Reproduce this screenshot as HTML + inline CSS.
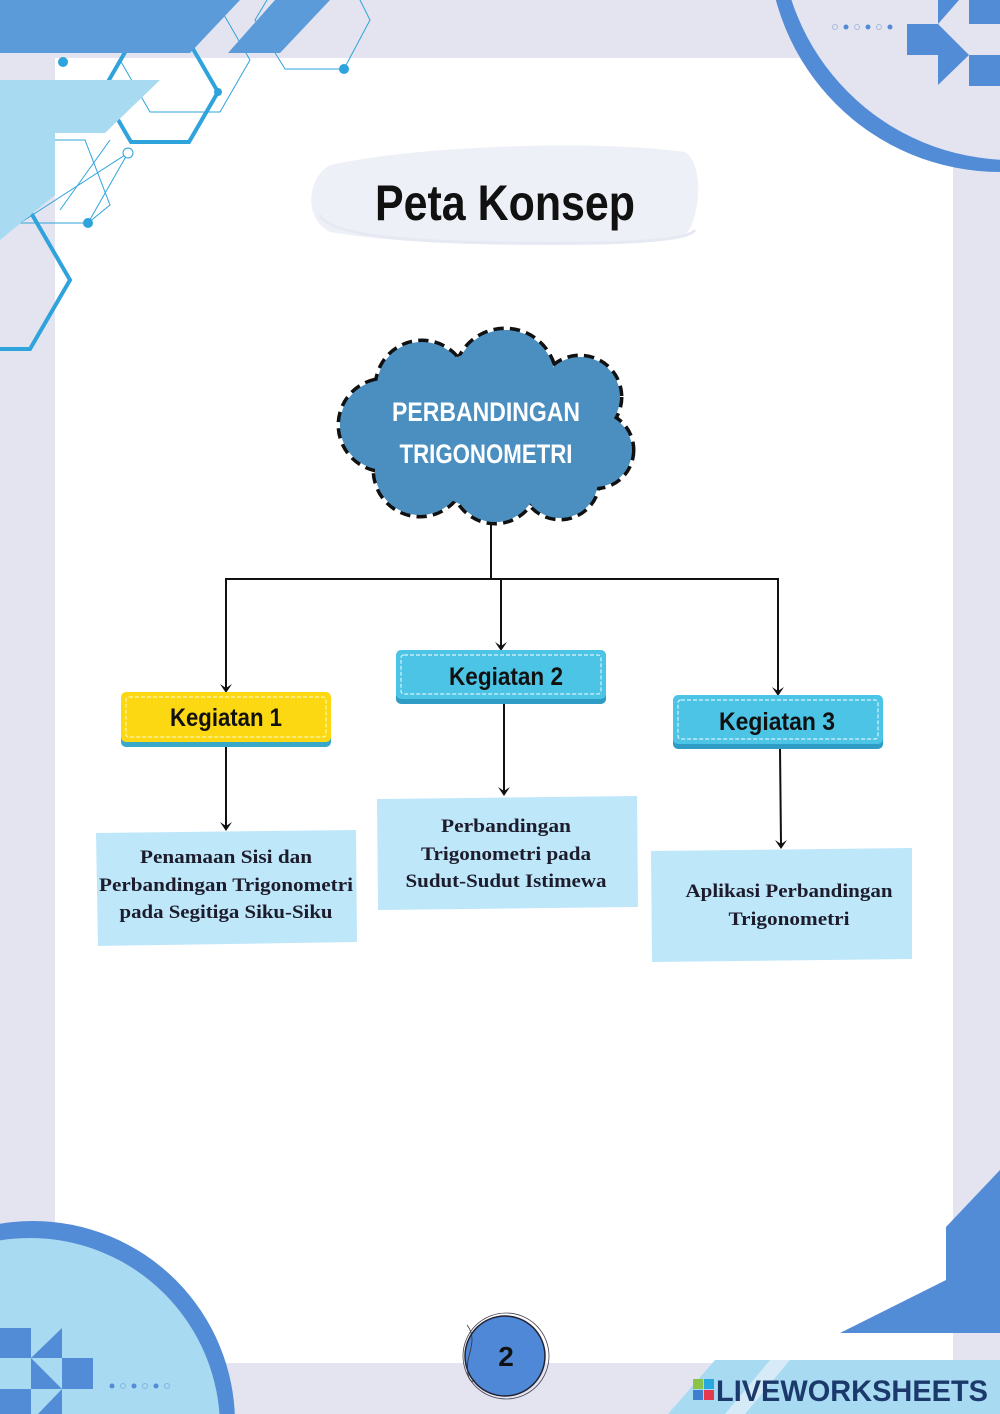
<!DOCTYPE html>
<html><head><meta charset="utf-8"><style>
html,body{margin:0;padding:0;width:1000px;height:1414px;overflow:hidden;}
body{background:#e4e4f0;}
svg{display:block;}
.hand{font-family:"Liberation Sans Narrow","Liberation Sans",sans-serif;font-weight:bold;}
.ser{font-family:"Liberation Serif",serif;font-weight:bold;font-size:19px;fill:#1c1c2c;}
</style></head><body>
<svg width="1000" height="1414" viewBox="0 0 1000 1414" xmlns="http://www.w3.org/2000/svg">
<rect width="1000" height="1414" fill="#e4e4f0"/>
<rect x="55" y="58" width="898" height="1305" fill="#fff"/>

<!-- top-left decor -->
<g fill="none" stroke="#2ea3dc">
<polygon points="218,92 189,142 131,142 102,92 131,42 189,42" stroke-width="4"/>
<polygon points="70,280 30,349 -50,349 -90,280 -50,211 30,211" stroke-width="4"/>
<polygon points="110,205 88,223 20,223 0,180 40,140 85,140" stroke-width="1"/>
<polygon points="250,60 220,112 150,112 120,60 150,8 220,8" stroke-width="1"/>
<polygon points="370,20 344,69 285,69 255,20 285,-30 345,-30" stroke-width="1"/>
<polygon points="128,153 88,223 20,223" stroke-width="1"/>
<line x1="60" y1="210" x2="110" y2="140" stroke-width="1"/>
</g>
<g fill="#2ea3dc"><circle cx="63" cy="62" r="5"/><circle cx="88" cy="223" r="5"/><circle cx="218" cy="92" r="4"/><circle cx="344" cy="69" r="5"/></g>
<circle cx="128" cy="153" r="5" fill="#fff" stroke="#2ea3dc" stroke-width="1"/>
<polygon points="0,0 240,0 190,53 0,53" fill="#5b9bd9"/>
<polygon points="275,0 330,0 280,53 228,53" fill="#5b9bd9"/>
<polygon points="0,80 160,80 105,133 55,133 55,195 0,240" fill="#a8daf2"/>

<!-- top-right decor -->
<circle cx="1000" cy="-60" r="232" fill="#528bd6"/>
<circle cx="1012" cy="-72" r="232" fill="#e4e4f0"/>
<g fill="#528bd6">
<rect x="907" y="24" width="31" height="31"/>
<rect x="969" y="0" width="31" height="24"/>
<rect x="969" y="55" width="31" height="31"/>
<polygon points="938,0 959,0 938,24"/>
<polygon points="938,24 969,55 938,55"/>
<polygon points="938,55 969,55 938,85"/>
</g>
<g fill="#528bd6"><circle cx="846" cy="27" r="2.5"/><circle cx="868" cy="27" r="2.5"/><circle cx="890" cy="27" r="2.5"/></g>
<g fill="none" stroke="#a9b9dd" stroke-width="1"><circle cx="835" cy="27" r="2.5"/><circle cx="857" cy="27" r="2.5"/><circle cx="879" cy="27" r="2.5"/></g>

<!-- bottom-left decor -->
<circle cx="33" cy="1423" r="202" fill="#528bd6"/>
<circle cx="30" cy="1428" r="190" fill="#a8daf2"/>
<g fill="#528bd6">
<rect x="0" y="1328" width="31" height="30"/>
<rect x="62" y="1358" width="31" height="31"/>
<rect x="0" y="1389" width="31" height="25"/>
<polygon points="62,1328 62,1358 31,1358"/>
<polygon points="31,1358 62,1389 31,1389"/>
<polygon points="62,1389 62,1414 38,1414"/>
</g>
<g fill="#528bd6"><circle cx="112" cy="1386" r="2.5"/><circle cx="134" cy="1386" r="2.5"/><circle cx="156" cy="1386" r="2.5"/></g>
<g fill="none" stroke="#7fb6e6" stroke-width="1"><circle cx="123" cy="1386" r="2.5"/><circle cx="145" cy="1386" r="2.5"/><circle cx="167" cy="1386" r="2.5"/></g>

<!-- bottom-right decor -->
<polygon points="1000,1170 946,1227 946,1280 840,1333 1000,1333" fill="#528bd6"/>
<polygon points="715,1360 1000,1360 1000,1414 668,1414" fill="#a8daf2"/>
<polygon points="770,1360 790,1360 745,1414 725,1414" fill="#d6eaf7"/>

<!-- page number -->
<circle cx="505" cy="1356" r="40" fill="#4f88d6" stroke="#223" stroke-width="1.5"/>
<circle cx="506" cy="1356" r="43" fill="none" stroke="#445" stroke-width="0.8"/>
<path d="M467,1325 C475,1335 472,1345 468,1360 C466,1375 470,1385 475,1380" fill="none" stroke="#333" stroke-width="0.8"/>
<text x="506" y="1366" text-anchor="middle" class="hand" font-size="28" fill="#111">2</text>

<!-- logo -->
<rect x="693" y="1379" width="10" height="10" fill="#8bc34a"/>
<rect x="704" y="1379" width="10" height="10" fill="#29a8e0"/>
<rect x="693" y="1390" width="10" height="10" fill="#3f7fd0"/>
<rect x="704" y="1390" width="10" height="10" fill="#e53950"/>
<text x="716" y="1401" font-family="Liberation Sans,sans-serif" font-weight="bold" font-size="30" fill="#1b3a6b" textLength="272" lengthAdjust="spacingAndGlyphs">LIVEWORKSHEETS</text>

<!-- title -->
<path d="M330,165 C420,145 600,140 685,152 C705,165 700,220 685,235 C600,248 420,248 330,232 C305,220 305,180 330,165 Z" fill="#eef0f8"/>
<path d="M320,215 C330,240 450,245 600,243 C650,242 690,238 695,230" fill="none" stroke="#e6e8f2" stroke-width="3"/>
<text x="505" y="220" text-anchor="middle" class="hand" font-size="50" fill="#111" textLength="260" lengthAdjust="spacingAndGlyphs">Peta Konsep</text>

<!-- cloud -->
<g fill="#4a8fc0" stroke="#111" stroke-width="7" stroke-dasharray="10,6">
<circle cx="385" cy="425" r="45"/><circle cx="422" cy="387" r="45"/><circle cx="505" cy="380" r="50"/>
<circle cx="580" cy="397" r="40"/><circle cx="595" cy="450" r="37"/><circle cx="560" cy="480" r="38"/>
<circle cx="495" cy="480" r="42"/><circle cx="420" cy="470" r="45"/>
</g>
<g fill="#4a8fc0">
<circle cx="385" cy="425" r="45"/><circle cx="422" cy="387" r="45"/><circle cx="505" cy="380" r="50"/>
<circle cx="580" cy="397" r="40"/><circle cx="595" cy="450" r="37"/><circle cx="560" cy="480" r="38"/>
<circle cx="495" cy="480" r="42"/><circle cx="420" cy="470" r="45"/><circle cx="490" cy="430" r="80"/>
</g>
<text x="486" y="421" text-anchor="middle" class="hand" font-size="27" fill="#fff" textLength="188" lengthAdjust="spacingAndGlyphs">PERBANDINGAN</text>
<text x="486" y="463" text-anchor="middle" class="hand" font-size="27" fill="#fff" textLength="173" lengthAdjust="spacingAndGlyphs">TRIGONOMETRI</text>

<!-- connectors -->
<g stroke="#111" stroke-width="2" fill="none">
<line x1="491" y1="522" x2="491" y2="579"/>
<line x1="225" y1="579" x2="779" y2="579"/>
<line x1="226" y1="579" x2="226" y2="688"/>
<line x1="501" y1="579" x2="501" y2="646"/>
<line x1="778" y1="579" x2="778" y2="691"/>
<line x1="226" y1="746" x2="226" y2="826"/>
<line x1="504" y1="703" x2="504" y2="791"/>
<line x1="780" y1="748" x2="781" y2="844"/>
</g>
<g fill="#111">
<polygon points="220,684 226,693 232,684 226,688"/>
<polygon points="495,642 501,651 507,642 501,646"/>
<polygon points="772,687 778,696 784,687 778,691"/>
<polygon points="220,822 226,831 232,822 226,826"/>
<polygon points="498,787 504,796 510,787 504,791"/>
<polygon points="775,840 781,849 787,840 781,844"/>
</g>

<!-- kegiatan boxes -->
<rect x="121" y="695" width="210" height="52" rx="5" fill="#3aa9c9"/>
<rect x="121" y="692" width="210" height="50" rx="5" fill="#fcd813"/>
<rect x="126" y="697" width="200" height="40" rx="3" fill="none" stroke="#fff6b0" stroke-width="1.2" stroke-dasharray="4,2"/>
<text x="226" y="726" text-anchor="middle" class="hand" font-size="25" fill="#111" textLength="112" lengthAdjust="spacingAndGlyphs">Kegiatan 1</text>

<rect x="396" y="653" width="210" height="51" rx="5" fill="#2e9cc4"/>
<rect x="396" y="650" width="210" height="49" rx="5" fill="#4cc4e6"/>
<rect x="401" y="655" width="200" height="39" rx="3" fill="none" stroke="#d8f3fb" stroke-width="1.2" stroke-dasharray="4,2"/>
<text x="506" y="685" text-anchor="middle" class="hand" font-size="25" fill="#111" textLength="114" lengthAdjust="spacingAndGlyphs">Kegiatan 2</text>

<rect x="673" y="698" width="210" height="51" rx="5" fill="#2e9cc4"/>
<rect x="673" y="695" width="210" height="49" rx="5" fill="#4cc4e6"/>
<rect x="678" y="700" width="200" height="39" rx="3" fill="none" stroke="#d8f3fb" stroke-width="1.2" stroke-dasharray="4,2"/>
<text x="777" y="730" text-anchor="middle" class="hand" font-size="25" fill="#111" textLength="116" lengthAdjust="spacingAndGlyphs">Kegiatan 3</text>

<!-- content boxes -->
<polygon points="96,833 356,830 357,942 98,946" fill="#bfe7fa"/>
<text x="226" y="863" text-anchor="middle" class="ser" textLength="172" lengthAdjust="spacingAndGlyphs">Penamaan Sisi dan</text>
<text x="226" y="891" text-anchor="middle" class="ser" textLength="254" lengthAdjust="spacingAndGlyphs">Perbandingan Trigonometri</text>
<text x="226" y="918" text-anchor="middle" class="ser" textLength="213" lengthAdjust="spacingAndGlyphs">pada Segitiga Siku-Siku</text>

<polygon points="377,799 637,796 638,907 378,910" fill="#bfe7fa"/>
<text x="506" y="832" text-anchor="middle" class="ser" textLength="130" lengthAdjust="spacingAndGlyphs">Perbandingan</text>
<text x="506" y="860" text-anchor="middle" class="ser" textLength="170" lengthAdjust="spacingAndGlyphs">Trigonometri pada</text>
<text x="506" y="887" text-anchor="middle" class="ser" textLength="201" lengthAdjust="spacingAndGlyphs">Sudut-Sudut Istimewa</text>

<polygon points="651,851 912,848 912,959 652,962" fill="#bfe7fa"/>
<text x="789" y="897" text-anchor="middle" class="ser" textLength="207" lengthAdjust="spacingAndGlyphs">Aplikasi Perbandingan</text>
<text x="789" y="925" text-anchor="middle" class="ser" textLength="121" lengthAdjust="spacingAndGlyphs">Trigonometri</text>
</svg>
</body></html>
